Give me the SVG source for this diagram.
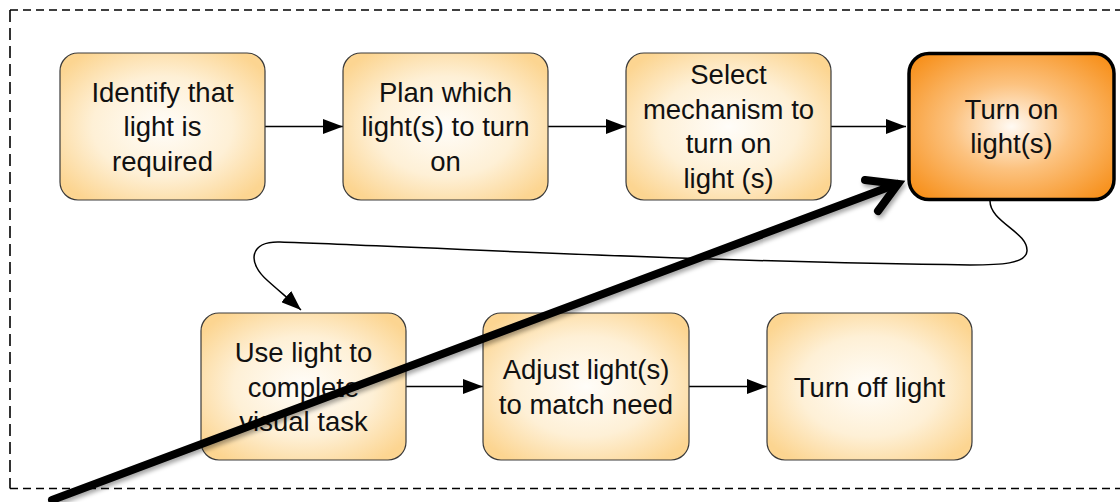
<svg xmlns="http://www.w3.org/2000/svg" width="1120" height="502" viewBox="0 0 1120 502">
  <style>
    .box { fill: url(#paleFill); stroke: #3a3a3a; stroke-width: 1.2; }
    .box.hot { fill: url(#hotFill); stroke: #000; stroke-width: 3.5; }
    .lbl { font-family: "Liberation Sans", Arial, Helvetica, sans-serif; font-size: 27.5px; fill: #111; text-anchor: middle; }
    .flow { fill: none; stroke: #000; stroke-width: 1.5; marker-end: url(#tri); }
    .frame { fill: none; stroke: #000; stroke-width: 1.6; }
    .big { fill: none; stroke: #000; stroke-width: 8; stroke-linecap: round; stroke-linejoin: miter; }
  </style>
  <defs>
    <radialGradient id="paleFill" cx="0.5" cy="0.5" r="0.62">
      <stop offset="0" stop-color="#fffdf9"/>
      <stop offset="0.55" stop-color="#fef0d6"/>
      <stop offset="1" stop-color="#fcd591"/>
    </radialGradient>
    <radialGradient id="hotFill" cx="0.5" cy="0.5" r="0.65">
      <stop offset="0" stop-color="#fffaf3"/>
      <stop offset="0.45" stop-color="#fcc27f"/>
      <stop offset="1" stop-color="#f7901b"/>
    </radialGradient>
    <marker id="tri" markerUnits="userSpaceOnUse" markerWidth="20" markerHeight="15" refX="20" refY="7.5" orient="auto">
      <path d="M0,0 L20,7.5 L0,15 z" fill="#000"/>
    </marker>
    <filter id="shade" x="-10%" y="-10%" width="120%" height="130%">
      <feDropShadow dx="2" dy="3" stdDeviation="2" flood-color="#000" flood-opacity="0.35"/>
    </filter>
  </defs>

  <!-- dashed boundary (right side runs past the canvas) -->
  <g id="boundary" class="frame">
    <line x1="10" y1="10" x2="1125" y2="10" stroke-dasharray="8 5"/>
    <line x1="10" y1="488.5" x2="1125" y2="488.5" stroke-dasharray="8 5"/>
    <line x1="10" y1="10" x2="10" y2="488.5" stroke-dasharray="12 6"/>
  </g>

  <g id="connectors">
    <line class="flow" x1="265" y1="126.5" x2="343" y2="126.5"/>
    <line class="flow" x1="548" y1="126.5" x2="626" y2="126.5"/>
    <line class="flow" x1="831" y1="126.5" x2="906" y2="126.5"/>
    <line class="flow" x1="406" y1="386.5" x2="483" y2="386.5"/>
    <line class="flow" x1="689" y1="386.5" x2="767" y2="386.5"/>
    <path class="flow" d="M 990 201 C 990 222, 1028 232, 1027 251 C 1026 264, 1000 265, 970 265 C 700 262, 400 246, 280 242 C 250 241, 246 262, 268 281 C 278 290, 290 300, 301 310"/>
  </g>

  <g id="n1">
    <rect class="box" x="60" y="53" width="205" height="147" rx="18"/>
    <text class="lbl" x="162.5" y="101.5">Identify that</text>
    <text class="lbl" x="162.5" y="136">light is</text>
    <text class="lbl" x="162.5" y="170.5">required</text>
  </g>
  <g id="n2">
    <rect class="box" x="343" y="53" width="205" height="147" rx="18"/>
    <text class="lbl" x="445.5" y="101.5">Plan which</text>
    <text class="lbl" x="445.5" y="136">light(s) to turn</text>
    <text class="lbl" x="445.5" y="170.5">on</text>
  </g>
  <g id="n3">
    <rect class="box" x="626" y="53" width="205" height="147" rx="18"/>
    <text class="lbl" x="728.5" y="83.5">Select</text>
    <text class="lbl" x="728.5" y="118.5">mechanism to</text>
    <text class="lbl" x="728.5" y="153">turn on</text>
    <text class="lbl" x="728.5" y="187.5">light (s)</text>
  </g>
  <g id="n4">
    <rect class="box hot" x="909" y="53.5" width="205" height="146" rx="20"/>
    <text class="lbl" x="1011.5" y="118.5">Turn on</text>
    <text class="lbl" x="1011.5" y="152.5">light(s)</text>
  </g>
  <g id="n5">
    <rect class="box" x="201" y="313" width="205" height="147" rx="18"/>
    <text class="lbl" x="303.5" y="362">Use light to</text>
    <text class="lbl" x="303.5" y="396.5">complete</text>
    <text class="lbl" x="303.5" y="431">visual task</text>
  </g>
  <g id="n6">
    <rect class="box" x="483" y="313" width="206" height="147" rx="18"/>
    <text class="lbl" x="586" y="379">Adjust light(s)</text>
    <text class="lbl" x="586" y="413.5">to match need</text>
  </g>
  <g id="n7">
    <rect class="box" x="767" y="313" width="205" height="147" rx="18"/>
    <text class="lbl" x="869.5" y="396.5">Turn off light</text>
  </g>

  <!-- heavy overlay arrow drawn on top of everything -->
  <g id="overlay-arrow" filter="url(#shade)">
    <line class="big" x1="52" y1="500" x2="897" y2="184"/>
    <polyline class="big" points="865,180 898,184 878,211"/>
  </g>
</svg>
